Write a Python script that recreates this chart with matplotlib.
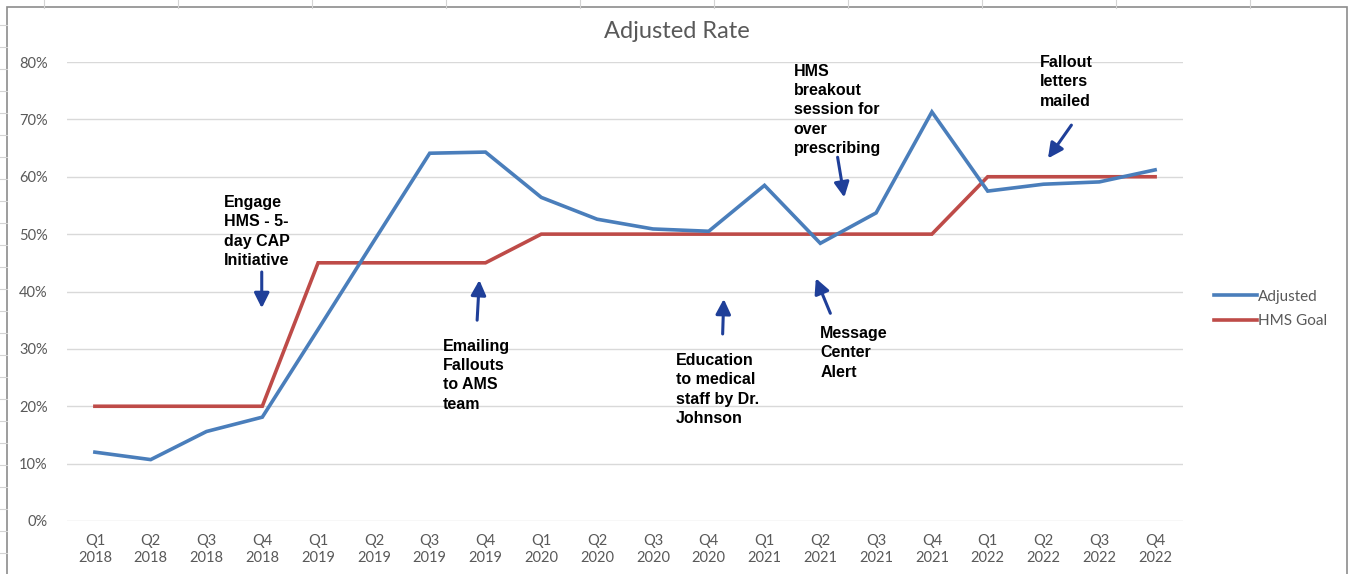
import matplotlib
matplotlib.use("Agg")
import matplotlib.pyplot as plt
from matplotlib.lines import Line2D
from matplotlib.patches import Rectangle

# quarters shown on the x axis
quarters = ["Q1", "Q2", "Q3", "Q4"]
years = ["2018", "2019", "2020", "2021", "2022"]
tick_labels = [f"{q}\n{y}" for y in years for q in quarters]

# series values (fractions)
adjusted = [0.120, 0.107, 0.156, 0.181, 0.334, 0.488, 0.641, 0.643, 0.564, 0.526,
            0.509, 0.505, 0.585, 0.484, 0.537, 0.713, 0.575, 0.587, 0.591, 0.612]
hms_goal = [0.20, 0.20, 0.20, 0.20, 0.45, 0.45, 0.45, 0.45, 0.50, 0.50,
            0.50, 0.50, 0.50, 0.50, 0.50, 0.50, 0.60, 0.60, 0.60, 0.60]

# annotation texts
notes = [
    "Engage\nHMS - 5-\nday CAP\nInitiative",
    "Emailing\nFallouts\nto AMS\nteam",
    "Education\nto medical\nstaff by Dr.\nJohnson",
    "Message\nCenter\nAlert",
    "HMS\nbreakout\nsession for\nover\nprescribing",
    "Fallout\nletters\nmailed",
]
# text anchor (top-left), arrow tail, arrow tip, in data units
note_pos = [(2.31, 0.568), (6.23, 0.318), (10.41, 0.293), (13.00, 0.340), (12.52, 0.797), (16.94, 0.812)]
arrow_tail = [(2.99, 0.434), (6.85, 0.350), (11.25, 0.326), (13.18, 0.362), (13.31, 0.634), (17.50, 0.690)]
arrow_tip = [(2.99, 0.371), (6.89, 0.420), (11.27, 0.387), (12.92, 0.423), (13.43, 0.564), (17.08, 0.632)]

W, H = 1352, 574
fig = plt.figure(figsize=(W / 100, H / 100), dpi=100)
fig.patch.set_facecolor("white")

# spreadsheet cell borders behind the chart
for x in range(44, W, 134):
    fig.add_artist(Line2D([x / W, x / W], [1, 1 - 8 / H], color="#d4d4d4", lw=0.8))
for y in range(25, H, 22):
    fig.add_artist(Line2D([0, 7 / W], [1 - y / H, 1 - y / H], color="#d4d4d4", lw=0.8))

# chart area frame
fig.add_artist(Rectangle((7 / W, -0.05), (1347 - 7) / W, 1 - 7 / H + 0.05,
                         transform=fig.transFigure, facecolor="white",
                         edgecolor="#8c8c8c", lw=1.2, zorder=0))

ax = fig.add_axes([67 / W, 1 - 521 / H, (1183 - 67) / W, (521 - 62) / H])
ax.set_facecolor("none")

x = list(range(len(tick_labels)))
ax.plot(x, adjusted, color="#4A7EBB", lw=2.6, label="Adjusted", solid_joinstyle="miter", zorder=3)
ax.plot(x, hms_goal, color="#BE4B48", lw=2.6, label="HMS Goal", solid_joinstyle="miter", zorder=2)

ax.set_xlim(-0.5, len(x) - 0.5)
ax.set_ylim(0, 0.8)
ax.set_yticks([i / 10 for i in range(9)])
ax.set_yticklabels([f"{i * 10}%" for i in range(9)])
ax.set_xticks(x)
ax.set_xticklabels(tick_labels, linespacing=1.3)
ax.grid(axis="y", color="#d9d9d9", lw=1)
ax.set_axisbelow(True)
for s in ax.spines.values():
    s.set_visible(False)
ax.tick_params(length=0, labelsize=10.5, labelcolor="#595959", pad=9)
ax.tick_params(axis="y", pad=14)
for lab in ax.get_xticklabels() + ax.get_yticklabels():
    lab.set_fontfamily("Lato")

fig.text(677 / W, 1 - 31 / H, "Adjusted Rate", ha="center", va="center",
         fontsize=17, color="#595959", family="Lato")

for txt, pos, tail, tip in zip(notes, note_pos, arrow_tail, arrow_tip):
    ax.text(pos[0], pos[1], txt, ha="left", va="top", fontsize=11.5,
            fontweight="bold", family="Liberation Sans", linespacing=1.36,
            color="black", clip_on=False)
    ax.annotate("", xy=tip, xytext=tail,
                arrowprops=dict(arrowstyle="-|>,head_width=0.3,head_length=0.6",
                                mutation_scale=15, lw=2.2, color="#1F3F99",
                                shrinkA=0, shrinkB=0))

leg = ax.legend(loc="center left", bbox_to_anchor=(1200 / W, 1 - 309 / H),
                bbox_transform=fig.transFigure, frameon=False, handlelength=2.8,
                handletextpad=0.1, labelspacing=0.7,
                prop={"family": "Lato", "size": 11})
for t in leg.get_texts():
    t.set_color("#595959")

fig.savefig("out.png", dpi=100)
